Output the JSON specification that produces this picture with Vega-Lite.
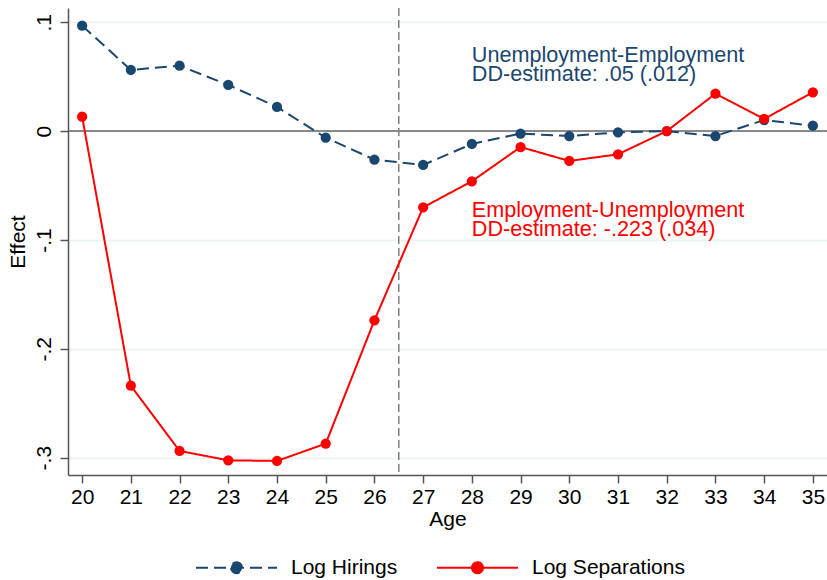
{
  "$schema": "https://vega.github.io/schema/vega-lite/v6.json",
  "width": 759,
  "height": 467,
  "autosize": {"type": "none"},
  "padding": {"left": 68, "top": 8, "right": 0, "bottom": 105},
  "background": "white",
  "config": {
    "font": "Liberation Sans",
    "view": {"stroke": null},
    "axis": {
      "domainColor": "#555555",
      "domainWidth": 1.5,
      "tickColor": "#555555",
      "tickWidth": 1.5,
      "tickSize": 8,
      "labelFontSize": 21,
      "labelColor": "#000000",
      "titleFontSize": 21,
      "titleFontWeight": "normal",
      "titleColor": "#000000"
    }
  },
  "layer": [
    {
      "data": {"values": [{"z": 0}]},
      "mark": {"type": "rule", "color": "#666666", "strokeWidth": 1.5},
      "encoding": {"y": {"field": "z", "type": "quantitative"}}
    },
    {
      "data": {"values": [{"cut": 26.5}]},
      "mark": {"type": "rule", "color": "#808080", "strokeWidth": 1.5, "strokeDash": [8, 4]},
      "encoding": {"x": {"field": "cut", "type": "quantitative"}}
    },
    {
      "data": {
        "values": [
          {"age": 20, "series": "Log Hirings", "effect": 0.0969},
          {"age": 21, "series": "Log Hirings", "effect": 0.0562},
          {"age": 22, "series": "Log Hirings", "effect": 0.0601},
          {"age": 23, "series": "Log Hirings", "effect": 0.0424},
          {"age": 24, "series": "Log Hirings", "effect": 0.0222},
          {"age": 25, "series": "Log Hirings", "effect": -0.006},
          {"age": 26, "series": "Log Hirings", "effect": -0.0262},
          {"age": 27, "series": "Log Hirings", "effect": -0.0311},
          {"age": 28, "series": "Log Hirings", "effect": -0.0118},
          {"age": 29, "series": "Log Hirings", "effect": -0.0023},
          {"age": 30, "series": "Log Hirings", "effect": -0.0045},
          {"age": 31, "series": "Log Hirings", "effect": -0.0011},
          {"age": 32, "series": "Log Hirings", "effect": 0.0},
          {"age": 33, "series": "Log Hirings", "effect": -0.0045},
          {"age": 34, "series": "Log Hirings", "effect": 0.0102},
          {"age": 35, "series": "Log Hirings", "effect": 0.005},
          {"age": 20, "series": "Log Separations", "effect": 0.0133},
          {"age": 21, "series": "Log Separations", "effect": -0.2339},
          {"age": 22, "series": "Log Separations", "effect": -0.2938},
          {"age": 23, "series": "Log Separations", "effect": -0.3024},
          {"age": 24, "series": "Log Separations", "effect": -0.303},
          {"age": 25, "series": "Log Separations", "effect": -0.2871},
          {"age": 26, "series": "Log Separations", "effect": -0.1738},
          {"age": 27, "series": "Log Separations", "effect": -0.07},
          {"age": 28, "series": "Log Separations", "effect": -0.0461},
          {"age": 29, "series": "Log Separations", "effect": -0.0146},
          {"age": 30, "series": "Log Separations", "effect": -0.0274},
          {"age": 31, "series": "Log Separations", "effect": -0.0213},
          {"age": 32, "series": "Log Separations", "effect": 0.0},
          {"age": 33, "series": "Log Separations", "effect": 0.0344},
          {"age": 34, "series": "Log Separations", "effect": 0.0112},
          {"age": 35, "series": "Log Separations", "effect": 0.0357}
        ]
      },
      "mark": {"type": "line", "strokeWidth": 2, "point": {"filled": true, "size": 105, "opacity": 1}},
      "encoding": {
        "x": {
          "field": "age", "type": "quantitative",
          "scale": {"domain": [19.71, 35.29], "nice": false, "zero": false},
          "axis": {"title": "Age", "values": [20,21,22,23,24,25,26,27,28,29,30,31,32,33,34,35], "grid": false, "labelPadding": 3, "titlePadding": 1, "labelFlush": false}
        },
        "y": {
          "field": "effect", "type": "quantitative",
          "scale": {"domain": [-0.3159, 0.1131], "nice": false, "zero": false},
          "axis": {
            "title": "Effect",
            "values": [-0.3, -0.2, -0.1, 0, 0.1],
            "grid": true, "gridColor": "#eaf2f3", "gridWidth": 1.5,
            "labelAngle": -90, "labelAlign": "center", "labelBaseline": "bottom", "labelPadding": 6,
            "labelExpr": "datum.value == 0 ? '0' : (datum.value < 0 ? '-' : '') + '.' + round(abs(datum.value) * 10)",
            "titlePadding": 5, "labelFlush": false
          }
        },
        "color": {
          "field": "series", "type": "nominal",
          "scale": {"domain": ["Log Hirings", "Log Separations"], "range": ["#1a476f", "#ff0000"]},
          "legend": {
            "title": null, "orient": "none", "legendX": 127, "legendY": 518, "direction": "horizontal",
            "symbolType": "M-1,0L1,0M-0.136,0A0.136,0.136,0,1,0,0.136,0A0.136,0.136,0,1,0,-0.136,0",
            "symbolSize": 6561, "symbolStrokeWidth": 2, "labelFontSize": 21, "labelOffset": 13, "columnPadding": 35,
            "labelColor": "#000000",
            "encode": {"symbols": {"update": {"fill": {"scale": "color", "field": "value"}, "opacity": {"value": 1}}}}
          }
        },
        "strokeDash": {
          "field": "series", "type": "nominal",
          "scale": {"domain": ["Log Hirings", "Log Separations"], "range": [[12, 6], [1, 0]]},
          "legend": {
            "title": null, "orient": "none", "legendX": 127, "legendY": 518, "direction": "horizontal",
            "symbolType": "M-1,0L1,0M-0.136,0A0.136,0.136,0,1,0,0.136,0A0.136,0.136,0,1,0,-0.136,0",
            "symbolSize": 6561, "symbolStrokeWidth": 2, "labelFontSize": 21, "labelOffset": 13, "columnPadding": 35,
            "labelColor": "#000000",
            "encode": {"symbols": {"update": {"fill": {"scale": "color", "field": "value"}, "opacity": {"value": 1}}}}
          }
        }
      }
    },
    {
      "data": {"values": [{"age": 28, "effect": 0.0633, "label": ["Unemployment-Employment", "DD-estimate: .05 (.012)"]}]},
      "mark": {"type": "text", "align": "left", "baseline": "alphabetic", "fontSize": 21.6, "lineHeight": 19, "color": "#1a476f"},
      "encoding": {
        "x": {"field": "age", "type": "quantitative"},
        "y": {"field": "effect", "type": "quantitative"},
        "text": {"field": "label"}
      }
    },
    {
      "data": {"values": [{"age": 28, "effect": -0.0786, "label": ["Employment-Unemployment", "DD-estimate: -.223 (.034)"]}]},
      "mark": {"type": "text", "align": "left", "baseline": "alphabetic", "fontSize": 21.6, "lineHeight": 19, "color": "#ff0000"},
      "encoding": {
        "x": {"field": "age", "type": "quantitative"},
        "y": {"field": "effect", "type": "quantitative"},
        "text": {"field": "label"}
      }
    }
  ]
}
